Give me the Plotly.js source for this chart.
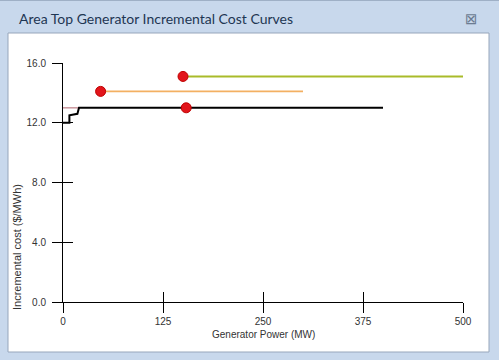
<!DOCTYPE html>
<html>
<head>
<meta charset="utf-8">
<script src="https://cdn.plot.ly/plotly-3.0.1.min.js"></script>
<style>html,body{margin:0;padding:0;background:#c8d8ec;}#chart{width:499px;height:360px;}</style>
</head>
<body>
<div id="chart"></div>
<script>
// Data
var blackX = [0, 8, 8, 18, 20, 400];
var blackY = [12.0, 12.0, 12.5, 12.6, 13.0, 13.0];
var pinkX = [0, 20];
var pinkY = [13.0, 13.0];
var orangeX = [47, 300];
var orangeY = [14.1, 14.1];
var oliveX = [150, 500];
var oliveY = [15.1, 15.1];
var markerX = [47, 150, 154];
var markerY = [14.1, 15.1, 13.0];
var xTicks = [0, 125, 250, 375, 500];
var xTickText = ['0', '125', '250', '375', '500'];
var yTicks = [0, 4, 8, 12, 16];
var yTickText = ['0.0', '4.0', '8.0', '12.0', '16.0'];

var traces = [
  {x: pinkX, y: pinkY, mode: 'lines', line: {color: '#c9969c', width: 1.5}, hoverinfo: 'none'},
  {x: blackX, y: blackY, mode: 'lines', line: {color: '#000000', width: 2}, hoverinfo: 'none'},
  {x: orangeX, y: orangeY, mode: 'lines', line: {color: '#f3b062', width: 1.8}, hoverinfo: 'none'},
  {x: oliveX, y: oliveY, mode: 'lines', line: {color: '#a9bb2a', width: 2}, hoverinfo: 'none'},
  {x: markerX, y: markerY, mode: 'markers', marker: {color: '#e2151b', size: 10, line: {color: '#c00000', width: 1}}, hoverinfo: 'none'},
  // dummy for secondary axes (inside ticks)
  {x: [0], y: [0], xaxis: 'x2', yaxis: 'y2', mode: 'markers', marker: {opacity: 0}, hoverinfo: 'none'}
];

var tickFont = {family: 'Liberation Sans, Arial, sans-serif', size: 10, color: '#333333'};

var layout = {
  width: 499, height: 360,
  margin: {l: 63, r: 36, t: 63, b: 58},
  paper_bgcolor: '#c8d8ec',
  plot_bgcolor: 'rgba(0,0,0,0)',
  showlegend: false,
  xaxis: {
    range: [0, 500], tickvals: xTicks, ticktext: xTickText,
    showgrid: false, zeroline: false, showline: true, linecolor: '#000', linewidth: 1,
    ticks: 'outside', ticklen: 10, tickcolor: '#000', tickwidth: 1,
    tickfont: tickFont, fixedrange: true
  },
  yaxis: {
    range: [0, 16], tickvals: yTicks, ticktext: yTickText,
    showgrid: false, zeroline: false, showline: true, linecolor: '#000', linewidth: 1,
    ticks: 'outside', ticklen: 10, tickcolor: '#000', tickwidth: 1, ticklabelstandoff: 4,
    tickfont: tickFont, fixedrange: true
  },
  xaxis2: {
    overlaying: 'x', anchor: 'y2', side: 'bottom', range: [0, 500], tickvals: xTicks,
    showticklabels: false, showgrid: false, zeroline: false, showline: false,
    ticks: 'inside', ticklen: 10, tickcolor: '#000', tickwidth: 1, fixedrange: true
  },
  yaxis2: {
    overlaying: 'y', anchor: 'x2', side: 'left', range: [0, 16], tickvals: yTicks,
    showticklabels: false, showgrid: false, zeroline: false, showline: false,
    ticks: 'inside', ticklen: 10, tickcolor: '#000', tickwidth: 1, fixedrange: true
  },
  shapes: [
    // white panel
    {type: 'rect', xref: 'paper', yref: 'paper', layer: 'below',
     x0: (8 - 63) / 400, x1: (489 - 63) / 400, y0: -(352 - 302) / 239, y1: (302 - 33) / 239,
     fillcolor: '#ffffff', line: {color: '#97a6bb', width: 1}},
    // top border line
    {type: 'line', xref: 'paper', yref: 'paper', layer: 'below',
     x0: -63 / 400, x1: 436 / 400, y0: (302 - 0.5) / 239, y1: (302 - 0.5) / 239,
     line: {color: '#9fb0c6', width: 1}}
  ],
  annotations: [
    {text: 'Area Top Generator Incremental Cost Curves', xref: 'paper', yref: 'paper',
     x: (17 - 63) / 400, y: (302 - 18) / 239, xanchor: 'left', yanchor: 'middle', showarrow: false,
     font: {family: 'Lato, Noto Sans, sans-serif', size: 14, color: '#1e3653'}},
    {text: '⊠', xref: 'paper', yref: 'paper',
     x: (471 - 63) / 400, y: (302 - 19) / 239, xanchor: 'center', yanchor: 'middle', showarrow: false,
     font: {family: 'DejaVu Sans, sans-serif', size: 15, color: '#6c7c92'}},
    {text: 'Generator Power (MW)', xref: 'paper', yref: 'paper',
     x: (263 - 63) / 400, y: -(334 - 302) / 239, xanchor: 'center', yanchor: 'middle', showarrow: false,
     font: {family: 'Liberation Sans, Arial, sans-serif', size: 10, color: '#333333'}},
    {text: 'Incremental cost ($/MWh)', xref: 'paper', yref: 'paper', textangle: -90,
     x: (17 - 63) / 400, y: (302 - 247) / 239, xanchor: 'center', yanchor: 'middle', showarrow: false,
     font: {family: 'Liberation Sans, Arial, sans-serif', size: 11, color: '#333333'}}
  ]
};

Plotly.newPlot('chart', traces, layout, {displayModeBar: false, staticPlot: true});
</script>
</body>
</html>
